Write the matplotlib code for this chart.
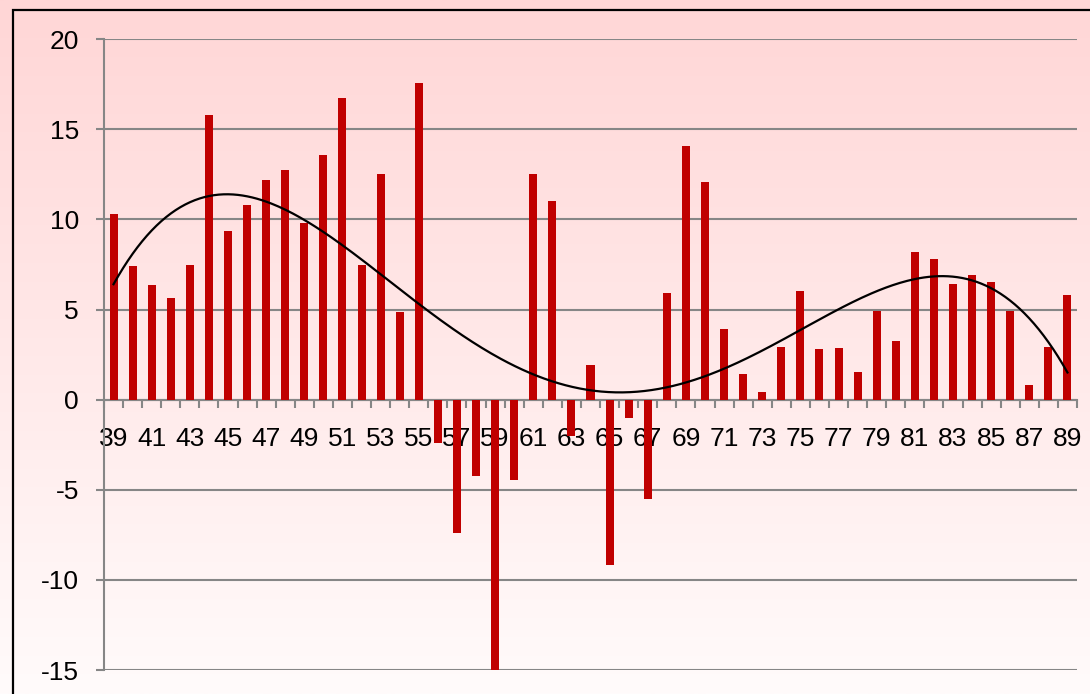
import numpy as np
import matplotlib
matplotlib.use("Agg")
import matplotlib.pyplot as plt
from matplotlib.patches import Rectangle

plt.rcParams['font.family'] = ['Liberation Sans', 'DejaVu Sans']
plt.rcParams['axes.unicode_minus'] = False

# categories 39..89 and the bar values
years = list(range(39, 90))
values = [10.3, 7.4, 6.35, 5.65, 7.45, 15.8, 9.35, 10.8, 12.2, 12.75,
          9.8, 13.6, 16.75, 7.45, 12.5, 4.85, 17.55, -2.4, -7.4, -4.25,
          -15.0, -4.45, 12.55, 11.05, -2.0, 1.95, -9.15, -1.0, -5.5, 5.9,
          14.1, 12.1, 3.95, 1.45, 0.45, 2.9, 6.05, 2.8, 2.85, 1.55,
          4.9, 3.25, 8.2, 7.8, 6.4, 6.9, 6.55, 4.95, 0.8, 2.95, 5.8]
y_ticks = [-15, -10, -5, 0, 5, 10, 15, 20]

grid_col = '#868686'
bar_col = '#C00000'

fig = plt.figure(figsize=(10.9, 6.94), dpi=100)

# pink to white background gradient over the whole figure
bg = fig.add_axes([0, 0, 1, 1], zorder=-10)
top = np.array([255, 214, 214]) / 255
bot = np.array([255, 251, 251]) / 255
t = np.linspace(0, 1, 256)[:, None]
grad = (top * (1 - t) + bot * t)[:, None, :]
bg.imshow(grad, aspect='auto', extent=[0, 1, 0, 1])
bg.axis('off')

ax = fig.add_axes([104 / 1090, 1 - 670 / 694, 973 / 1090, (670 - 39.3) / 694])
ax.set_facecolor('none')

x = np.arange(len(years))
ax.bar(x, values, width=0.42, color=bar_col, zorder=3)

# 4th order polynomial trendline
poly = np.polynomial.Polynomial.fit(x, values, 4)
xs = np.linspace(0, len(years) - 1, 400)
ax.plot(xs, poly(xs), color='black', lw=1.6, zorder=4)

ax.set_xlim(-0.5, len(years) - 0.5)
ax.set_ylim(-15, 20)
ax.set_yticks(y_ticks)
ax.set_yticklabels([str(v) for v in y_ticks])
ax.yaxis.grid(True, color=grid_col, lw=1.5, zorder=0)
ax.set_axisbelow(True)

for s in ['top', 'right']:
    ax.spines[s].set_visible(False)
ax.spines['bottom'].set_position(('data', 0))
for s in ['left', 'bottom']:
    ax.spines[s].set_color(grid_col)
    ax.spines[s].set_linewidth(1.5)

ax.set_xticks(x[::2])
ax.set_xticklabels([str(y) for y in years[::2]])
ax.set_xticks(np.arange(len(years) + 1) - 0.5, minor=True)
ax.tick_params(axis='x', which='major', length=0, pad=20, labelsize=19)
ax.tick_params(axis='x', which='minor', length=6, width=1.5, color=grid_col, direction='out')
ax.tick_params(axis='y', which='major', length=6, width=1.5, color=grid_col, pad=12, labelsize=19)

# black frame, running off the right and bottom edges
fig.patches.append(Rectangle((12.5 / 1090, -0.1), 1.2, 1.1 - 10 / 694,
                             transform=fig.transFigure, fill=False,
                             edgecolor='black', lw=1.6, zorder=10))

fig.savefig('out.png', dpi=100)
